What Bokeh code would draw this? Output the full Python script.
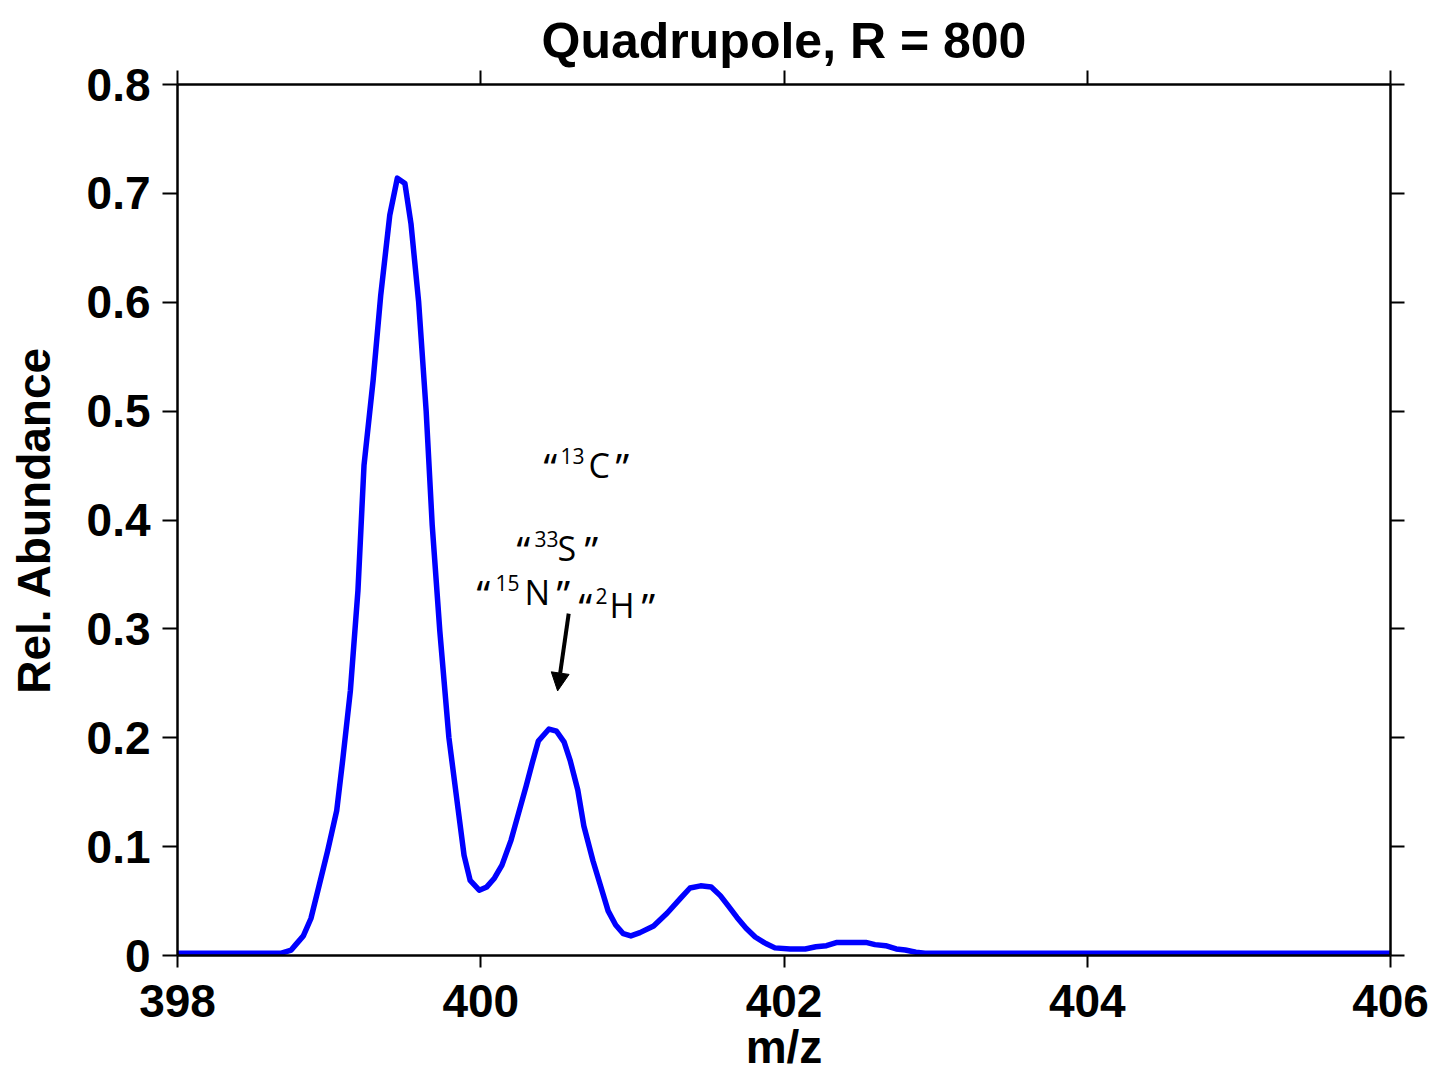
from bokeh.plotting import figure
from bokeh.models import (LinearAxis, FixedTicker, Arrow, NormalHead, Label, Range1d,
                          CustomJSTickFormatter)
from bokeh.embed import file_html
from bokeh.resources import INLINE

# ---- data ----
mz = [398.0, 398.68, 398.75, 398.78, 398.83, 398.88, 398.93, 398.99, 399.05, 399.09,
      399.14, 399.19, 399.23, 399.29, 399.34, 399.40, 399.45, 399.50, 399.54, 399.59,
      399.64, 399.68, 399.73, 399.79, 399.85, 399.89, 399.93, 399.99, 400.04, 400.09,
      400.14, 400.20, 400.25, 400.30, 400.34, 400.38, 400.45, 400.50, 400.55, 400.59,
      400.64, 400.68, 400.74, 400.79, 400.84, 400.89, 400.94, 400.99, 401.05, 401.14,
      401.23, 401.32, 401.38, 401.45, 401.52, 401.58, 401.63, 401.69, 401.75, 401.81,
      401.88, 401.94, 402.04, 402.14, 402.21, 402.28, 402.35, 402.54, 402.60, 402.67,
      402.74, 402.80, 402.87, 402.93, 406.0]
abundance = [0.002, 0.002, 0.005, 0.01, 0.018, 0.034, 0.062, 0.096, 0.133, 0.18,
             0.243, 0.335, 0.45, 0.528, 0.606, 0.68, 0.714, 0.709, 0.672, 0.601,
             0.50, 0.395, 0.298, 0.20, 0.135, 0.092, 0.069, 0.06, 0.063, 0.071,
             0.083, 0.106, 0.131, 0.156, 0.177, 0.197, 0.208, 0.206, 0.196, 0.179,
             0.152, 0.119, 0.087, 0.064, 0.041, 0.028, 0.02, 0.018, 0.021, 0.027,
             0.039, 0.053, 0.062, 0.064, 0.063, 0.055, 0.046, 0.035, 0.025, 0.017,
             0.011, 0.007, 0.006, 0.006, 0.008, 0.009, 0.012, 0.012, 0.01, 0.009,
             0.006, 0.005, 0.003, 0.002, 0.002]
x_ticks = [398, 400, 402, 404, 406]
y_ticks = [0, 0.1, 0.2, 0.3, 0.4, 0.5, 0.6, 0.7, 0.8]
y_tick_labels = ["0", "0.1", "0.2", "0.3", "0.4", "0.5", "0.6", "0.7", "0.8"]
iso_mass = ["13", "33", "15", "2"]
iso_elem = ["C", "S", "N", "H"]
title_text = "Quadrupole, R = 800"
x_label = "m/z"
y_label = "Rel. Abundance"

FONT = "Liberation Sans"
ANN_FONT = "Open Sans"
QUOTE_FONT = "Noto Sans"

p = figure(width=1440, height=1075, x_range=Range1d(398, 406), y_range=Range1d(0, 0.8),
           output_backend="svg", toolbar_location=None,
           x_axis_location=None, y_axis_location=None,
           min_border_left=177, min_border_right=50, min_border_top=84, min_border_bottom=120)
p.grid.visible = False
p.outline_line_color = None
p.background_fill_color = "white"
p.border_fill_color = "white"

p.title.text = title_text
p.title.align = "center"
p.title.vertical_align = "top"
p.title.text_font = FONT
p.title.text_font_size = "50px"
p.title.text_font_style = "bold"
p.title.text_color = "black"
p.title.text_line_height = 0.8
p.title.standoff = 0


def style_axis(ax, labels=True):
    ax.axis_line_width = 2.5
    ax.axis_line_color = "black"
    ax.major_tick_line_width = 2
    ax.major_tick_in = 0
    ax.major_tick_out = 14
    ax.minor_tick_line_color = None
    ax.major_label_text_font = FONT
    ax.major_label_text_font_style = "bold"
    ax.major_label_text_color = "black"
    ax.major_label_text_font_size = "46px"
    ax.axis_label_text_font = FONT
    ax.axis_label_text_font_style = "bold"
    ax.axis_label_text_font_size = "46px"
    ax.axis_label_text_color = "black"
    if not labels:
        ax.formatter = CustomJSTickFormatter(code="return ''")
        ax.major_label_text_font_size = "2px"
        ax.major_label_standoff = 0


xb = LinearAxis(ticker=FixedTicker(ticks=x_ticks), axis_label=x_label)
style_axis(xb)
xb.major_tick_out = 12
xb.major_label_standoff = 17
xb.axis_label_standoff = 1
p.add_layout(xb, "below")

yl = LinearAxis(ticker=FixedTicker(ticks=y_ticks), axis_label=y_label,
                major_label_overrides=dict(zip(y_ticks, y_tick_labels)))
style_axis(yl)
yl.major_tick_out = 15
yl.major_label_standoff = 12
yl.axis_label_standoff = 24
p.add_layout(yl, "left")

xt = LinearAxis(ticker=FixedTicker(ticks=x_ticks))
style_axis(xt, labels=False)
p.add_layout(xt, "above")

yr = LinearAxis(ticker=FixedTicker(ticks=y_ticks))
style_axis(yr, labels=False)
p.add_layout(yr, "right")

p.line(mz, abundance, line_color="#0000FF", line_width=5.5, line_join="round")

# isotope annotations: quote, superscript mass number, element, quote
ann_anchor = [(400.427, 0.4501), (400.249, 0.3739), (399.985, 0.3335), (400.658, 0.3215)]
ann_offsets = [(0, 17, 45, 72), (0, 18, 41, 68), (0, 19, 48, 80), (0, 17, 31, 63)]
MAIN = "34px"
QUOTE = "38px"
SUP = "21px"
for mass, elem, (ax_, ay_), offs in zip(iso_mass, iso_elem, ann_anchor, ann_offsets):
    pieces = [("\u201c", QUOTE, -1, QUOTE_FONT), (mass, SUP, 9, ANN_FONT),
              (elem, MAIN, 0, ANN_FONT), ("\u201d", QUOTE, -1, QUOTE_FONT)]
    for (txt, size, raise_, fnt), xo in zip(pieces, offs):
        p.add_layout(Label(x=ax_, y=ay_, x_offset=xo - 2, y_offset=raise_, text=txt,
                           text_align="left", text_baseline="alphabetic",
                           text_font=fnt, text_font_size=size, text_color="black"))

p.add_layout(Arrow(end=NormalHead(size=18, fill_color="black", line_color="black"),
                   x_start=400.58, y_start=0.314, x_end=400.507, y_end=0.243,
                   line_width=4, line_color="black"))

open("out.html", "w").write(file_html(p, INLINE))
